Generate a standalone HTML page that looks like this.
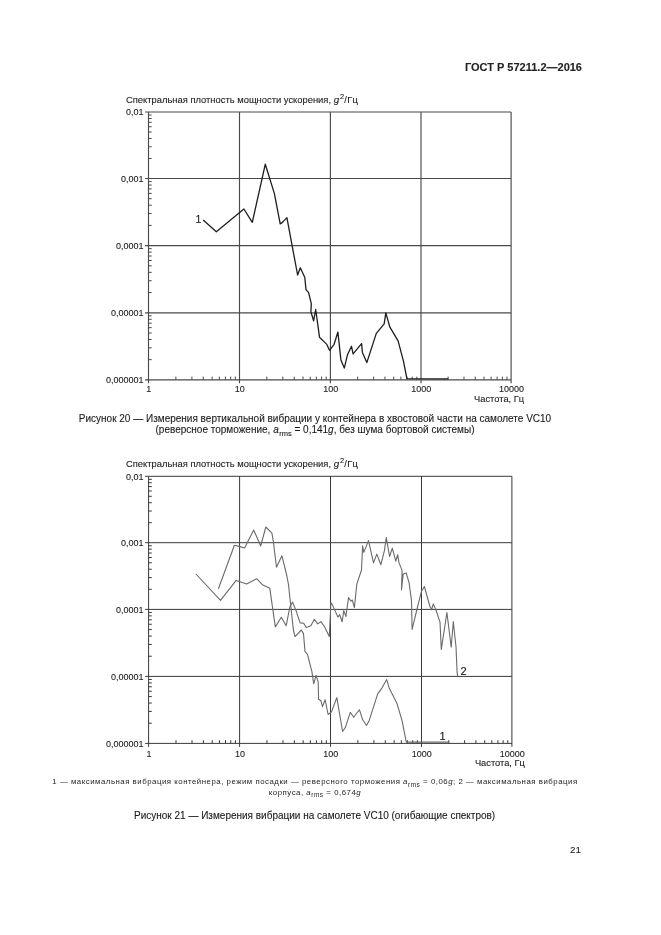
<!DOCTYPE html>
<html><head><meta charset="utf-8"><style>
html,body{margin:0;padding:0;background:#fff;}
body{width:661px;height:935px;position:relative;overflow:hidden;font-family:"Liberation Sans",sans-serif;color:#2a2a2a;}
.t{position:absolute;white-space:nowrap;line-height:1;}
svg{position:absolute;left:0;top:0;will-change:transform;}
svg text{font-family:"Liberation Sans",sans-serif;stroke:#1a1a1a;stroke-width:0.1px;}
</style></head><body>
<svg width="661" height="935" viewBox="0 0 661 935">
<line x1="145.00" y1="112.00" x2="511.10" y2="112.00" stroke="#4a4a4a" stroke-width="1.15"/>
<line x1="145.00" y1="178.50" x2="511.10" y2="178.50" stroke="#4a4a4a" stroke-width="1.15"/>
<line x1="145.00" y1="245.60" x2="511.10" y2="245.60" stroke="#4a4a4a" stroke-width="1.15"/>
<line x1="145.00" y1="312.80" x2="511.10" y2="312.80" stroke="#4a4a4a" stroke-width="1.15"/>
<line x1="145.00" y1="379.80" x2="511.10" y2="379.80" stroke="#4a4a4a" stroke-width="1.15"/>
<line x1="148.50" y1="112.00" x2="148.50" y2="383.30" stroke="#4a4a4a" stroke-width="1.15"/>
<line x1="239.50" y1="112.00" x2="239.50" y2="383.30" stroke="#4a4a4a" stroke-width="1.15"/>
<line x1="330.40" y1="112.00" x2="330.40" y2="383.30" stroke="#4a4a4a" stroke-width="1.15"/>
<line x1="421.00" y1="112.00" x2="421.00" y2="383.30" stroke="#4a4a4a" stroke-width="1.15"/>
<line x1="511.10" y1="112.00" x2="511.10" y2="383.30" stroke="#4a4a4a" stroke-width="1.15"/>
<line x1="148.50" y1="158.48" x2="151.70" y2="158.48" stroke="#4a4a4a" stroke-width="1"/>
<line x1="175.89" y1="379.80" x2="175.89" y2="376.60" stroke="#4a4a4a" stroke-width="1"/>
<line x1="148.50" y1="146.77" x2="151.70" y2="146.77" stroke="#4a4a4a" stroke-width="1"/>
<line x1="191.92" y1="379.80" x2="191.92" y2="376.60" stroke="#4a4a4a" stroke-width="1"/>
<line x1="148.50" y1="138.46" x2="151.70" y2="138.46" stroke="#4a4a4a" stroke-width="1"/>
<line x1="203.29" y1="379.80" x2="203.29" y2="376.60" stroke="#4a4a4a" stroke-width="1"/>
<line x1="148.50" y1="132.02" x2="151.70" y2="132.02" stroke="#4a4a4a" stroke-width="1"/>
<line x1="212.11" y1="379.80" x2="212.11" y2="376.60" stroke="#4a4a4a" stroke-width="1"/>
<line x1="148.50" y1="126.75" x2="151.70" y2="126.75" stroke="#4a4a4a" stroke-width="1"/>
<line x1="219.31" y1="379.80" x2="219.31" y2="376.60" stroke="#4a4a4a" stroke-width="1"/>
<line x1="148.50" y1="122.30" x2="151.70" y2="122.30" stroke="#4a4a4a" stroke-width="1"/>
<line x1="225.40" y1="379.80" x2="225.40" y2="376.60" stroke="#4a4a4a" stroke-width="1"/>
<line x1="148.50" y1="118.44" x2="151.70" y2="118.44" stroke="#4a4a4a" stroke-width="1"/>
<line x1="230.68" y1="379.80" x2="230.68" y2="376.60" stroke="#4a4a4a" stroke-width="1"/>
<line x1="148.50" y1="115.04" x2="151.70" y2="115.04" stroke="#4a4a4a" stroke-width="1"/>
<line x1="235.34" y1="379.80" x2="235.34" y2="376.60" stroke="#4a4a4a" stroke-width="1"/>
<line x1="148.50" y1="225.40" x2="151.70" y2="225.40" stroke="#4a4a4a" stroke-width="1"/>
<line x1="266.86" y1="379.80" x2="266.86" y2="376.60" stroke="#4a4a4a" stroke-width="1"/>
<line x1="148.50" y1="213.59" x2="151.70" y2="213.59" stroke="#4a4a4a" stroke-width="1"/>
<line x1="282.87" y1="379.80" x2="282.87" y2="376.60" stroke="#4a4a4a" stroke-width="1"/>
<line x1="148.50" y1="205.20" x2="151.70" y2="205.20" stroke="#4a4a4a" stroke-width="1"/>
<line x1="294.23" y1="379.80" x2="294.23" y2="376.60" stroke="#4a4a4a" stroke-width="1"/>
<line x1="148.50" y1="198.70" x2="151.70" y2="198.70" stroke="#4a4a4a" stroke-width="1"/>
<line x1="303.04" y1="379.80" x2="303.04" y2="376.60" stroke="#4a4a4a" stroke-width="1"/>
<line x1="148.50" y1="193.39" x2="151.70" y2="193.39" stroke="#4a4a4a" stroke-width="1"/>
<line x1="310.23" y1="379.80" x2="310.23" y2="376.60" stroke="#4a4a4a" stroke-width="1"/>
<line x1="148.50" y1="188.89" x2="151.70" y2="188.89" stroke="#4a4a4a" stroke-width="1"/>
<line x1="316.32" y1="379.80" x2="316.32" y2="376.60" stroke="#4a4a4a" stroke-width="1"/>
<line x1="148.50" y1="185.00" x2="151.70" y2="185.00" stroke="#4a4a4a" stroke-width="1"/>
<line x1="321.59" y1="379.80" x2="321.59" y2="376.60" stroke="#4a4a4a" stroke-width="1"/>
<line x1="148.50" y1="181.57" x2="151.70" y2="181.57" stroke="#4a4a4a" stroke-width="1"/>
<line x1="326.24" y1="379.80" x2="326.24" y2="376.60" stroke="#4a4a4a" stroke-width="1"/>
<line x1="148.50" y1="292.57" x2="151.70" y2="292.57" stroke="#4a4a4a" stroke-width="1"/>
<line x1="357.67" y1="379.80" x2="357.67" y2="376.60" stroke="#4a4a4a" stroke-width="1"/>
<line x1="148.50" y1="280.74" x2="151.70" y2="280.74" stroke="#4a4a4a" stroke-width="1"/>
<line x1="373.63" y1="379.80" x2="373.63" y2="376.60" stroke="#4a4a4a" stroke-width="1"/>
<line x1="148.50" y1="272.34" x2="151.70" y2="272.34" stroke="#4a4a4a" stroke-width="1"/>
<line x1="384.95" y1="379.80" x2="384.95" y2="376.60" stroke="#4a4a4a" stroke-width="1"/>
<line x1="148.50" y1="265.83" x2="151.70" y2="265.83" stroke="#4a4a4a" stroke-width="1"/>
<line x1="393.73" y1="379.80" x2="393.73" y2="376.60" stroke="#4a4a4a" stroke-width="1"/>
<line x1="148.50" y1="260.51" x2="151.70" y2="260.51" stroke="#4a4a4a" stroke-width="1"/>
<line x1="400.90" y1="379.80" x2="400.90" y2="376.60" stroke="#4a4a4a" stroke-width="1"/>
<line x1="148.50" y1="256.01" x2="151.70" y2="256.01" stroke="#4a4a4a" stroke-width="1"/>
<line x1="406.97" y1="379.80" x2="406.97" y2="376.60" stroke="#4a4a4a" stroke-width="1"/>
<line x1="148.50" y1="252.11" x2="151.70" y2="252.11" stroke="#4a4a4a" stroke-width="1"/>
<line x1="412.22" y1="379.80" x2="412.22" y2="376.60" stroke="#4a4a4a" stroke-width="1"/>
<line x1="148.50" y1="248.67" x2="151.70" y2="248.67" stroke="#4a4a4a" stroke-width="1"/>
<line x1="416.85" y1="379.80" x2="416.85" y2="376.60" stroke="#4a4a4a" stroke-width="1"/>
<line x1="148.50" y1="359.63" x2="151.70" y2="359.63" stroke="#4a4a4a" stroke-width="1"/>
<line x1="448.12" y1="379.80" x2="448.12" y2="376.60" stroke="#4a4a4a" stroke-width="1"/>
<line x1="148.50" y1="347.83" x2="151.70" y2="347.83" stroke="#4a4a4a" stroke-width="1"/>
<line x1="463.99" y1="379.80" x2="463.99" y2="376.60" stroke="#4a4a4a" stroke-width="1"/>
<line x1="148.50" y1="339.46" x2="151.70" y2="339.46" stroke="#4a4a4a" stroke-width="1"/>
<line x1="475.25" y1="379.80" x2="475.25" y2="376.60" stroke="#4a4a4a" stroke-width="1"/>
<line x1="148.50" y1="332.97" x2="151.70" y2="332.97" stroke="#4a4a4a" stroke-width="1"/>
<line x1="483.98" y1="379.80" x2="483.98" y2="376.60" stroke="#4a4a4a" stroke-width="1"/>
<line x1="148.50" y1="327.66" x2="151.70" y2="327.66" stroke="#4a4a4a" stroke-width="1"/>
<line x1="491.11" y1="379.80" x2="491.11" y2="376.60" stroke="#4a4a4a" stroke-width="1"/>
<line x1="148.50" y1="323.18" x2="151.70" y2="323.18" stroke="#4a4a4a" stroke-width="1"/>
<line x1="497.14" y1="379.80" x2="497.14" y2="376.60" stroke="#4a4a4a" stroke-width="1"/>
<line x1="148.50" y1="319.29" x2="151.70" y2="319.29" stroke="#4a4a4a" stroke-width="1"/>
<line x1="502.37" y1="379.80" x2="502.37" y2="376.60" stroke="#4a4a4a" stroke-width="1"/>
<line x1="148.50" y1="315.87" x2="151.70" y2="315.87" stroke="#4a4a4a" stroke-width="1"/>
<line x1="506.98" y1="379.80" x2="506.98" y2="376.60" stroke="#4a4a4a" stroke-width="1"/>
<text x="143.50" y="115.30" font-size="9" text-anchor="end" fill="#1a1a1a" >0,01</text>
<text x="143.50" y="181.80" font-size="9" text-anchor="end" fill="#1a1a1a" >0,001</text>
<text x="143.50" y="248.90" font-size="9" text-anchor="end" fill="#1a1a1a" >0,0001</text>
<text x="143.50" y="316.10" font-size="9" text-anchor="end" fill="#1a1a1a" >0,00001</text>
<text x="143.50" y="383.10" font-size="9" text-anchor="end" fill="#1a1a1a" >0,000001</text>
<text x="148.80" y="392.00" font-size="9" text-anchor="middle" fill="#1a1a1a" >1</text>
<text x="239.80" y="392.00" font-size="9" text-anchor="middle" fill="#1a1a1a" >10</text>
<text x="330.70" y="392.00" font-size="9" text-anchor="middle" fill="#1a1a1a" >100</text>
<text x="421.30" y="392.00" font-size="9" text-anchor="middle" fill="#1a1a1a" >1000</text>
<text x="511.40" y="392.00" font-size="9" text-anchor="middle" fill="#1a1a1a" >10000</text>
<text x="524.10" y="402.20" font-size="9.3" text-anchor="end" fill="#1a1a1a" >Частота, Гц</text>
<line x1="145.10" y1="476.30" x2="511.90" y2="476.30" stroke="#3a3a3a" stroke-width="1.0"/>
<line x1="145.10" y1="542.70" x2="511.90" y2="542.70" stroke="#3a3a3a" stroke-width="1.0"/>
<line x1="145.10" y1="609.40" x2="511.90" y2="609.40" stroke="#3a3a3a" stroke-width="1.0"/>
<line x1="145.10" y1="676.40" x2="511.90" y2="676.40" stroke="#3a3a3a" stroke-width="1.0"/>
<line x1="145.10" y1="743.40" x2="511.90" y2="743.40" stroke="#3a3a3a" stroke-width="1.0"/>
<line x1="148.60" y1="476.30" x2="148.60" y2="746.90" stroke="#3a3a3a" stroke-width="1.0"/>
<line x1="239.60" y1="476.30" x2="239.60" y2="746.90" stroke="#3a3a3a" stroke-width="1.0"/>
<line x1="330.50" y1="476.30" x2="330.50" y2="746.90" stroke="#3a3a3a" stroke-width="1.0"/>
<line x1="421.50" y1="476.30" x2="421.50" y2="746.90" stroke="#3a3a3a" stroke-width="1.0"/>
<line x1="511.90" y1="476.30" x2="511.90" y2="746.90" stroke="#3a3a3a" stroke-width="1.0"/>
<line x1="148.60" y1="522.71" x2="151.80" y2="522.71" stroke="#3a3a3a" stroke-width="1"/>
<line x1="175.99" y1="743.40" x2="175.99" y2="740.20" stroke="#3a3a3a" stroke-width="1"/>
<line x1="148.60" y1="511.02" x2="151.80" y2="511.02" stroke="#3a3a3a" stroke-width="1"/>
<line x1="192.02" y1="743.40" x2="192.02" y2="740.20" stroke="#3a3a3a" stroke-width="1"/>
<line x1="148.60" y1="502.72" x2="151.80" y2="502.72" stroke="#3a3a3a" stroke-width="1"/>
<line x1="203.39" y1="743.40" x2="203.39" y2="740.20" stroke="#3a3a3a" stroke-width="1"/>
<line x1="148.60" y1="496.29" x2="151.80" y2="496.29" stroke="#3a3a3a" stroke-width="1"/>
<line x1="212.21" y1="743.40" x2="212.21" y2="740.20" stroke="#3a3a3a" stroke-width="1"/>
<line x1="148.60" y1="491.03" x2="151.80" y2="491.03" stroke="#3a3a3a" stroke-width="1"/>
<line x1="219.41" y1="743.40" x2="219.41" y2="740.20" stroke="#3a3a3a" stroke-width="1"/>
<line x1="148.60" y1="486.59" x2="151.80" y2="486.59" stroke="#3a3a3a" stroke-width="1"/>
<line x1="225.50" y1="743.40" x2="225.50" y2="740.20" stroke="#3a3a3a" stroke-width="1"/>
<line x1="148.60" y1="482.73" x2="151.80" y2="482.73" stroke="#3a3a3a" stroke-width="1"/>
<line x1="230.78" y1="743.40" x2="230.78" y2="740.20" stroke="#3a3a3a" stroke-width="1"/>
<line x1="148.60" y1="479.34" x2="151.80" y2="479.34" stroke="#3a3a3a" stroke-width="1"/>
<line x1="235.44" y1="743.40" x2="235.44" y2="740.20" stroke="#3a3a3a" stroke-width="1"/>
<line x1="148.60" y1="589.32" x2="151.80" y2="589.32" stroke="#3a3a3a" stroke-width="1"/>
<line x1="266.96" y1="743.40" x2="266.96" y2="740.20" stroke="#3a3a3a" stroke-width="1"/>
<line x1="148.60" y1="577.58" x2="151.80" y2="577.58" stroke="#3a3a3a" stroke-width="1"/>
<line x1="282.97" y1="743.40" x2="282.97" y2="740.20" stroke="#3a3a3a" stroke-width="1"/>
<line x1="148.60" y1="569.24" x2="151.80" y2="569.24" stroke="#3a3a3a" stroke-width="1"/>
<line x1="294.33" y1="743.40" x2="294.33" y2="740.20" stroke="#3a3a3a" stroke-width="1"/>
<line x1="148.60" y1="562.78" x2="151.80" y2="562.78" stroke="#3a3a3a" stroke-width="1"/>
<line x1="303.14" y1="743.40" x2="303.14" y2="740.20" stroke="#3a3a3a" stroke-width="1"/>
<line x1="148.60" y1="557.50" x2="151.80" y2="557.50" stroke="#3a3a3a" stroke-width="1"/>
<line x1="310.33" y1="743.40" x2="310.33" y2="740.20" stroke="#3a3a3a" stroke-width="1"/>
<line x1="148.60" y1="553.03" x2="151.80" y2="553.03" stroke="#3a3a3a" stroke-width="1"/>
<line x1="316.42" y1="743.40" x2="316.42" y2="740.20" stroke="#3a3a3a" stroke-width="1"/>
<line x1="148.60" y1="549.16" x2="151.80" y2="549.16" stroke="#3a3a3a" stroke-width="1"/>
<line x1="321.69" y1="743.40" x2="321.69" y2="740.20" stroke="#3a3a3a" stroke-width="1"/>
<line x1="148.60" y1="545.75" x2="151.80" y2="545.75" stroke="#3a3a3a" stroke-width="1"/>
<line x1="326.34" y1="743.40" x2="326.34" y2="740.20" stroke="#3a3a3a" stroke-width="1"/>
<line x1="148.60" y1="656.23" x2="151.80" y2="656.23" stroke="#3a3a3a" stroke-width="1"/>
<line x1="357.89" y1="743.40" x2="357.89" y2="740.20" stroke="#3a3a3a" stroke-width="1"/>
<line x1="148.60" y1="644.43" x2="151.80" y2="644.43" stroke="#3a3a3a" stroke-width="1"/>
<line x1="373.92" y1="743.40" x2="373.92" y2="740.20" stroke="#3a3a3a" stroke-width="1"/>
<line x1="148.60" y1="636.06" x2="151.80" y2="636.06" stroke="#3a3a3a" stroke-width="1"/>
<line x1="385.29" y1="743.40" x2="385.29" y2="740.20" stroke="#3a3a3a" stroke-width="1"/>
<line x1="148.60" y1="629.57" x2="151.80" y2="629.57" stroke="#3a3a3a" stroke-width="1"/>
<line x1="394.11" y1="743.40" x2="394.11" y2="740.20" stroke="#3a3a3a" stroke-width="1"/>
<line x1="148.60" y1="624.26" x2="151.80" y2="624.26" stroke="#3a3a3a" stroke-width="1"/>
<line x1="401.31" y1="743.40" x2="401.31" y2="740.20" stroke="#3a3a3a" stroke-width="1"/>
<line x1="148.60" y1="619.78" x2="151.80" y2="619.78" stroke="#3a3a3a" stroke-width="1"/>
<line x1="407.40" y1="743.40" x2="407.40" y2="740.20" stroke="#3a3a3a" stroke-width="1"/>
<line x1="148.60" y1="615.89" x2="151.80" y2="615.89" stroke="#3a3a3a" stroke-width="1"/>
<line x1="412.68" y1="743.40" x2="412.68" y2="740.20" stroke="#3a3a3a" stroke-width="1"/>
<line x1="148.60" y1="612.47" x2="151.80" y2="612.47" stroke="#3a3a3a" stroke-width="1"/>
<line x1="417.34" y1="743.40" x2="417.34" y2="740.20" stroke="#3a3a3a" stroke-width="1"/>
<line x1="148.60" y1="723.23" x2="151.80" y2="723.23" stroke="#3a3a3a" stroke-width="1"/>
<line x1="448.71" y1="743.40" x2="448.71" y2="740.20" stroke="#3a3a3a" stroke-width="1"/>
<line x1="148.60" y1="711.43" x2="151.80" y2="711.43" stroke="#3a3a3a" stroke-width="1"/>
<line x1="464.63" y1="743.40" x2="464.63" y2="740.20" stroke="#3a3a3a" stroke-width="1"/>
<line x1="148.60" y1="703.06" x2="151.80" y2="703.06" stroke="#3a3a3a" stroke-width="1"/>
<line x1="475.93" y1="743.40" x2="475.93" y2="740.20" stroke="#3a3a3a" stroke-width="1"/>
<line x1="148.60" y1="696.57" x2="151.80" y2="696.57" stroke="#3a3a3a" stroke-width="1"/>
<line x1="484.69" y1="743.40" x2="484.69" y2="740.20" stroke="#3a3a3a" stroke-width="1"/>
<line x1="148.60" y1="691.26" x2="151.80" y2="691.26" stroke="#3a3a3a" stroke-width="1"/>
<line x1="491.84" y1="743.40" x2="491.84" y2="740.20" stroke="#3a3a3a" stroke-width="1"/>
<line x1="148.60" y1="686.78" x2="151.80" y2="686.78" stroke="#3a3a3a" stroke-width="1"/>
<line x1="497.90" y1="743.40" x2="497.90" y2="740.20" stroke="#3a3a3a" stroke-width="1"/>
<line x1="148.60" y1="682.89" x2="151.80" y2="682.89" stroke="#3a3a3a" stroke-width="1"/>
<line x1="503.14" y1="743.40" x2="503.14" y2="740.20" stroke="#3a3a3a" stroke-width="1"/>
<line x1="148.60" y1="679.47" x2="151.80" y2="679.47" stroke="#3a3a3a" stroke-width="1"/>
<line x1="507.76" y1="743.40" x2="507.76" y2="740.20" stroke="#3a3a3a" stroke-width="1"/>
<text x="143.60" y="479.60" font-size="9" text-anchor="end" fill="#1a1a1a" >0,01</text>
<text x="143.60" y="546.00" font-size="9" text-anchor="end" fill="#1a1a1a" >0,001</text>
<text x="143.60" y="612.70" font-size="9" text-anchor="end" fill="#1a1a1a" >0,0001</text>
<text x="143.60" y="679.70" font-size="9" text-anchor="end" fill="#1a1a1a" >0,00001</text>
<text x="143.60" y="746.70" font-size="9" text-anchor="end" fill="#1a1a1a" >0,000001</text>
<text x="148.90" y="757.00" font-size="9" text-anchor="middle" fill="#1a1a1a" >1</text>
<text x="239.90" y="757.00" font-size="9" text-anchor="middle" fill="#1a1a1a" >10</text>
<text x="330.80" y="757.00" font-size="9" text-anchor="middle" fill="#1a1a1a" >100</text>
<text x="421.80" y="757.00" font-size="9" text-anchor="middle" fill="#1a1a1a" >1000</text>
<text x="512.20" y="757.00" font-size="9" text-anchor="middle" fill="#1a1a1a" >10000</text>
<text x="524.90" y="766.20" font-size="9.3" text-anchor="end" fill="#1a1a1a" >Частота, Гц</text>
<polyline points="203.2,219.9 216.3,231.7 243.9,209.0 252.3,222.3 265.3,164.2 274.4,193.6 280.2,223.9 282.4,222.4 286.9,217.6 297.6,275.0 300.3,267.8 304.8,277.5 306.0,289.6 308.6,292.7 311.3,303.6 310.9,311.8 313.6,320.8 315.7,309.5 319.5,337.2 326.8,344.4 329.5,350.3 334.1,344.3 337.9,332.0 340.9,359.9 344.3,368.1 347.4,355.1 351.5,346.3 353.1,353.8 361.6,343.6 362.4,352.4 366.8,362.6 376.3,333.4 384.2,323.8 385.8,312.9 389.9,327.2 398.1,340.9 403.5,361.3 406.9,378.7 448.3,378.9" fill="none" stroke="#1e1e1e" stroke-width="1.3" stroke-linejoin="round"/>
<polyline points="195.9,574.0 220.5,600.4 236.2,580.4 246.7,584.1 256.7,578.7 262.8,585.1 269.8,588.3 275.3,626.9 281.3,617.2 286.2,625.7 289.8,607.0 292.6,602.1 296.5,611.8 300.1,622.9 303.7,623.3 306.2,627.5 310.8,625.7 314.4,619.3 317.6,623.9 320.9,621.7 324.3,626.3 329.3,636.6 330.9,602.9 332.1,604.1 337.9,617.1 339.7,614.7 342.1,621.8 343.8,610.6 345.9,616.5 348.5,597.6 350.9,601.2 352.3,600.0 354.4,607.6 356.8,584.1 361.5,570.0 362.6,545.9 363.8,552.4 368.5,540.6 373.5,562.9 376.8,554.1 380.9,564.7 384.4,550.6 386.3,537.6 389.6,556.5 392.3,548.2 395.8,561.2 397.7,554.7 398.9,562.4 402.1,570.6 401.5,590.0 403.2,574.1 406.2,572.9 409.1,582.9 411.5,600.6 412.1,629.4 416.8,610.0 421.5,591.2 424.4,586.5 429.8,606.0 431.6,609.8 433.3,603.9 435.7,609.3 440.0,622.1 441.3,649.4 446.9,612.5 451.2,647.2 453.3,621.6 456.0,646.7 457.1,672.4 457.6,676.1" fill="none" stroke="#6a6a6a" stroke-width="1.1" stroke-linejoin="round"/>
<polyline points="218.4,588.7 234.4,545.3 239.2,546.4 244.6,548.0 253.7,530.0 260.7,546.0 265.8,527.0 271.9,533.2 273.3,541.2 276.5,567.2 281.9,555.7 286.9,576.0 288.5,584.6 291.0,608.0 293.4,630.0 295.0,636.6 301.3,630.0 303.5,633.6 305.0,651.7 307.4,654.1 311.9,671.6 313.7,683.8 316.1,675.4 318.2,682.2 318.6,699.2 320.9,700.8 322.5,706.6 325.1,699.7 328.1,714.5 331.5,711.9 336.8,697.6 342.6,731.5 345.2,727.8 350.3,712.4 353.7,717.2 356.4,713.5 359.5,709.8 362.7,719.8 366.5,725.5 369.2,720.4 377.7,693.9 381.9,688.1 386.7,679.6 389.4,688.6 396.8,702.9 402.1,720.9 406.3,742.1 449.5,742.1" fill="none" stroke="#6a6a6a" stroke-width="1.1" stroke-linejoin="round"/>
<text x="126" y="103.4" font-size="9.4" fill="#1a1a1a">Спектральная плотность мощности ускорения, <tspan font-style="italic" font-size="9.8">g</tspan><tspan font-size="7.4" dx="0.8" dy="-4">2</tspan><tspan dx="0.3" dy="4">/</tspan><tspan dx="0.4">Гц</tspan></text>
<text x="126" y="466.9" font-size="9.4" fill="#1a1a1a">Спектральная плотность мощности ускорения, <tspan font-style="italic" font-size="9.8">g</tspan><tspan font-size="7.4" dx="0.8" dy="-4">2</tspan><tspan dx="0.3" dy="4">/</tspan><tspan dx="0.4">Гц</tspan></text>
<text x="195.5" y="223.2" font-size="10.5" fill="#1a1a1a">1</text>
<text x="460.5" y="674.5" font-size="11" fill="#111">2</text>
<text x="439.5" y="740" font-size="11" fill="#111">1</text>
<text x="582" y="70.9" font-size="11" font-weight="bold" text-anchor="end" fill="#222">ГОСТ Р 57211.2—2016</text>
<text x="315" y="421.5" font-size="10" text-anchor="middle" fill="#1a1a1a">Рисунок 20 — Измерения вертикальной вибрации у контейнера в хвостовой части на самолете VC10</text>
<text x="315" y="433.3" font-size="10" text-anchor="middle" fill="#1a1a1a">(реверсное торможение, <tspan font-style="italic">a</tspan><tspan font-size="7.5" dx="0.5" dy="2.2">rms</tspan><tspan dy="-2.2"> = 0,141</tspan><tspan font-style="italic">g</tspan>, без шума бортовой системы)</text>
<text x="315" y="784" font-size="7.8" letter-spacing="0.53" text-anchor="middle" fill="#1e1e1e" style="stroke:none">1 — максимальная вибрация контейнера, режим посадки — реверсного торможения <tspan font-style="italic">a</tspan><tspan font-size="6.5" dy="2.5">rms</tspan><tspan dy="-2.5"> = 0,06</tspan><tspan font-style="italic">g</tspan>; 2 — максимальная вибрация</text>
<text x="315" y="794.7" font-size="7.8" letter-spacing="0.53" text-anchor="middle" fill="#1e1e1e" style="stroke:none">корпуса, <tspan font-style="italic">a</tspan><tspan font-size="6.5" dy="2.5">rms</tspan><tspan dy="-2.5"> = 0,674</tspan><tspan font-style="italic">g</tspan></text>
<text x="314.6" y="819.4" font-size="10" text-anchor="middle" fill="#1a1a1a">Рисунок 21 — Измерения вибрации на самолете VC10 (огибающие спектров)</text>
<text x="581" y="852.9" font-size="9.8" text-anchor="end" fill="#1a1a1a">21</text>
</svg>
</body></html>
